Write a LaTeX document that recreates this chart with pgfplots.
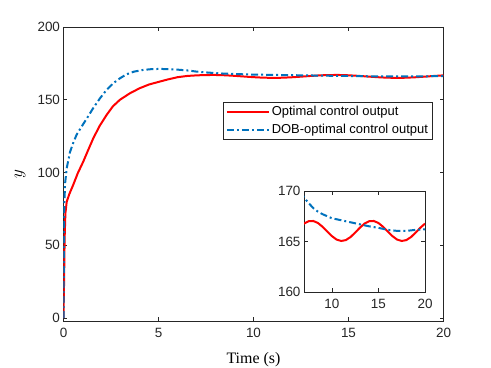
\documentclass[border=0pt]{standalone}
\usepackage{fontspec}
\setmainfont{Liberation Serif}
\newfontfamily\sansf{Liberation Sans}
\usepackage{pgfplots}
\pgfplotsset{compat=1.18}

\definecolor{mblue}{rgb}{0,0.447,0.741}
\definecolor{axgray}{rgb}{0.15,0.15,0.15}

% step responses
\pgfplotstableread{
t y
0 0
0.03 25
0.06 55
0.1 72
0.17 80
0.3 85
0.51 91.5
0.75 99.5
1.04 107.5
1.3 115.5
1.57 123.6
1.9 132
2.27 139.6
2.6 145.5
2.97 150
3.5 154.5
4.02 158
4.5 160.5
5.07 162.5
5.5 164
6 165.5
6.5 166.35
7 166.77
7.5 167.01
8 167.03
8.5 166.83
9 166.45
9.5 165.98
10 165.53
10.5 165.19
11 165.05
11.5 165.14
12 165.44
12.5 165.88
13 166.36
13.5 166.77
14 167.01
14.5 167.03
15 166.83
15.5 166.45
16 165.98
16.5 165.53
17 165.19
17.5 165.05
18 165.14
18.5 165.44
19 165.88
19.5 166.36
20 166.77
}\optdata

\pgfplotstableread{
t y
0 0
0.02 40
0.04 75
0.08 92
0.17 103
0.34 114
0.5 120
0.69 126
0.95 131.5
1.22 137
1.55 144
1.92 151
2.25 156.5
2.61 161.3
3 165
3.32 167.5
3.7 169.3
4.19 170.5
4.6 171
5.07 171.2
5.6 171
6.1 170.6
6.64 170
7 169.35
7.5 168.8
8 168.3
8.5 167.95
9 167.7
9.5 167.5
10 167.3
11 167.1
12 166.9
13 166.7
14 166.5
15 166.35
16 166.15
17 166.05
18 166.05
19 166.15
20 166.2
}\dobdata

\pgfplotsset{
  mystyle/.style={
    scale only axis,
    axis line style={axgray, line width=0.6bp},
    every tick/.style={axgray, line width=0.6bp},
    tick align=inside,
    major tick length=4bp,
    tick label style={font=\sansf\fontsize{13.5}{15}\selectfont, text=axgray},
    /pgf/number format/assume math mode=true,
    xticklabel style={yshift=-4bp},
    axis background/.style={fill=white},
  },
  optline/.style={red, line width=2bp},
  dobline/.style={mblue, line width=2bp, dash pattern=on 7bp off 3bp on 2bp off 3bp},
  legend image code/.code={\draw[#1] (0bp,0bp) -- (42bp,0bp);},
}

\begin{document}
\begin{tikzpicture}
\useasboundingbox (-63.5bp,-47bp) rectangle (427.5bp,321bp);
\begin{axis}[
  mystyle,
  width=380bp, height=294bp,
  xmin=0, xmax=20, ymin=-2, ymax=200,
  xtick={0,5,10,15,20}, ytick={0,50,100,150,200},
  xlabel={Time (s)}, ylabel={$y$},
  xlabel style={font=\fontsize{16}{18}\selectfont, at={(axis description cs:0.5,-0.144)}, anchor=base},
  ylabel style={font=\fontsize{16}{18}\selectfont, at={(axis description cs:-0.1145,0.5)}, anchor=center},
  legend style={at={(axis description cs:0.421,0.745)}, anchor=north west,
    draw=axgray, line width=0.6bp, fill=white,
    font=\sansf\fontsize{13}{15}\selectfont,
    inner xsep=2bp, inner ysep=2bp, row sep=3bp},
  legend cell align=left,
]
\addplot[optline] table[x=t, y=y] {\optdata};
\addlegendentry{Optimal control output}
\addplot[dobline] table[x=t, y=y] {\dobdata};
\addlegendentry{DOB-optimal control output}
\end{axis}

\begin{axis}[
  mystyle,
  at={(240.5bp,29bp)}, anchor=south west,
  width=121bp, height=101bp,
  xmin=7, xmax=20, ymin=160, ymax=170,
  xtick={10,15,20}, ytick={160,165,170},
  clip=true,
]
\addplot[optline] table[x=t, y=y] {\optdata};
\addplot[dobline] table[x=t, y=y] {\dobdata};
\end{axis}
\end{tikzpicture}
\end{document}
